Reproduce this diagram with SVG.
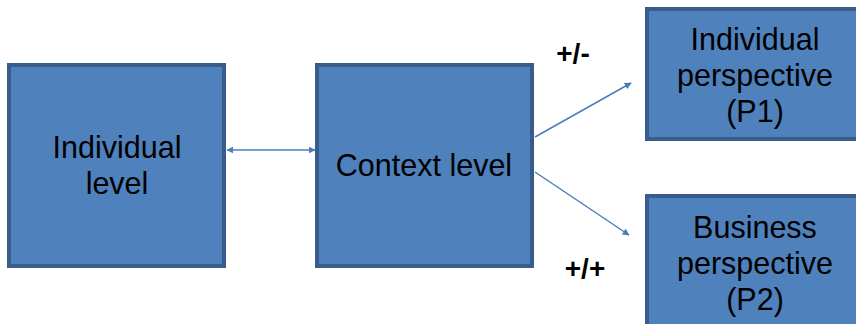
<svg xmlns="http://www.w3.org/2000/svg" width="856" height="324" viewBox="0 0 856 324">
<defs>
<style>
.box{fill:#4F81BD;stroke:#385D8A;stroke-width:4}
.t{font-family:"Liberation Sans",Arial,sans-serif;font-size:30.5px;fill:#000;text-anchor:middle}
.lbl{font-family:"Liberation Sans",Arial,sans-serif;font-size:28px;font-weight:bold;fill:#000;text-anchor:middle}
.c{stroke:#4A7EBB;stroke-width:1.5;fill:none}
</style>
<marker id="ah" viewBox="0 0 10 10" refX="9" refY="5" markerWidth="7" markerHeight="7" orient="auto-start-reverse" markerUnits="userSpaceOnUse">
<path d="M0,0 L10,5 L0,10 z" fill="#4A7EBB"/>
</marker>
</defs>
<rect width="856" height="324" fill="#fff"/>
<g id="individual-level">
<rect class="box" x="9" y="65" width="215" height="201"/>
<text class="t" x="117" y="158">Individual</text>
<text class="t" x="117" y="194">level</text>
</g>
<g id="context-level">
<rect class="box" x="317" y="65" width="215" height="201"/>
<text class="t" x="424" y="176">Context level</text>
</g>
<g id="individual-perspective">
<rect class="box" x="647" y="9" width="216" height="130"/>
<text class="t" x="755" y="50">Individual</text>
<text class="t" x="755" y="86">perspective</text>
<text class="t" x="755" y="122">(P1)</text>
</g>
<g id="business-perspective">
<rect class="box" x="647" y="196" width="216" height="136"/>
<text class="t" x="755" y="238">Business</text>
<text class="t" x="755" y="274">perspective</text>
<text class="t" x="755" y="310">(P2)</text>
</g>
<g id="connectors">
<line class="c" x1="227" y1="150" x2="315" y2="150" marker-start="url(#ah)" marker-end="url(#ah)"/>
<line class="c" x1="535" y1="137" x2="631" y2="83" marker-end="url(#ah)"/>
<line class="c" x1="535" y1="172" x2="629" y2="235" marker-end="url(#ah)"/>
</g>
<g id="labels">
<text class="lbl" x="573" y="63">+/-</text>
<text class="lbl" x="585" y="278">+/+</text>
</g>
</svg>
